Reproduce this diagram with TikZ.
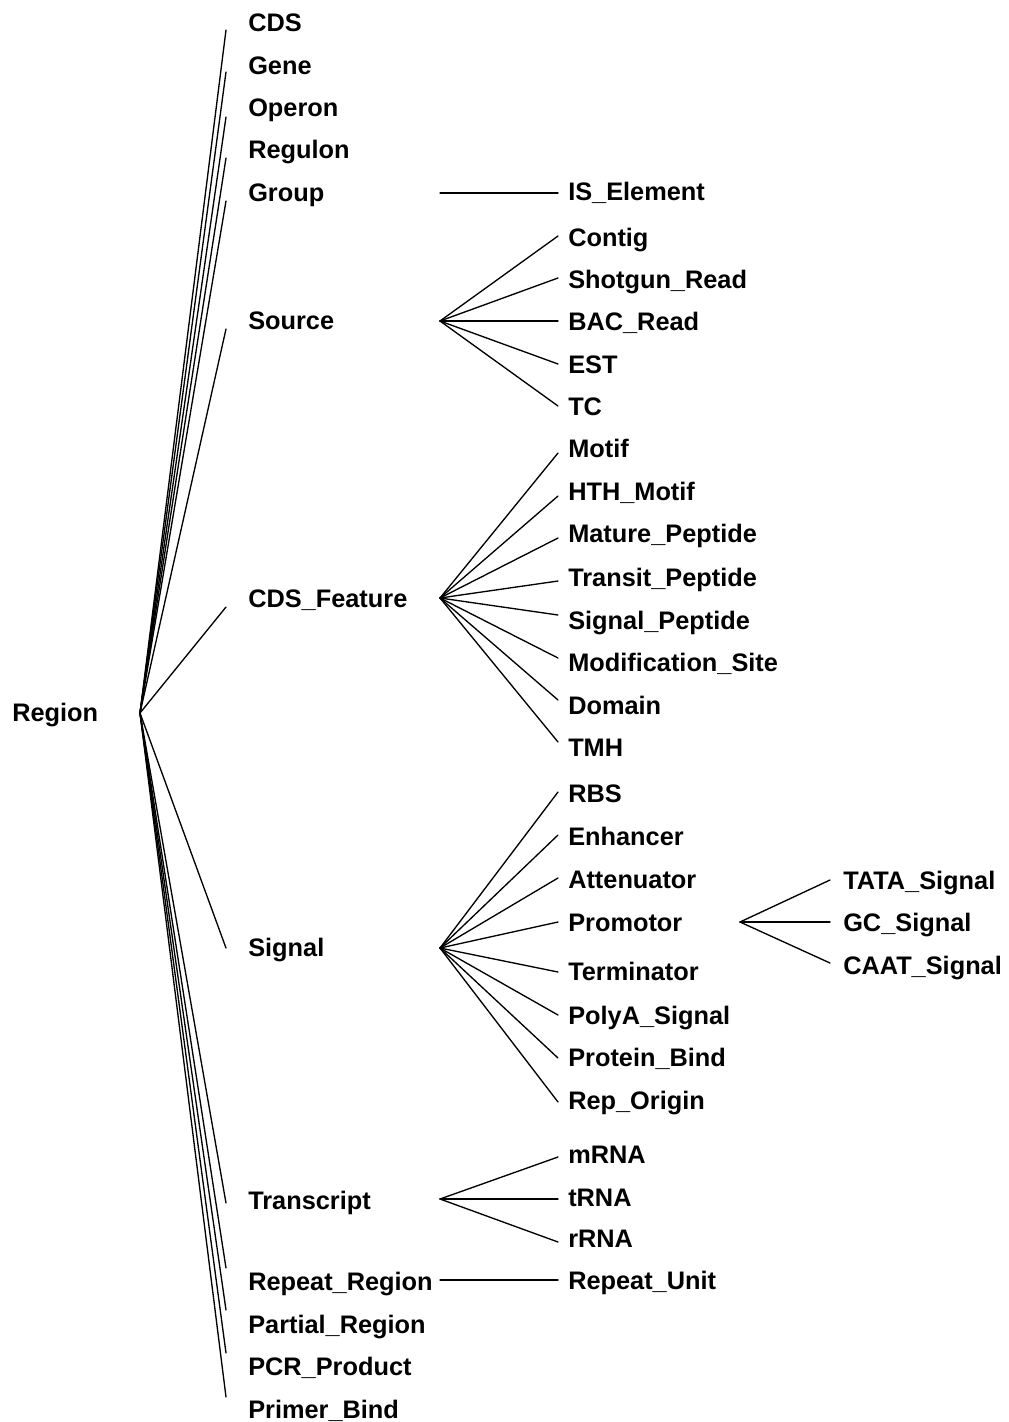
\documentclass[tikz,border=0pt]{standalone}
\usepackage{fontspec}
\setmainfont{Liberation Sans}
\begin{document}
\begin{tikzpicture}[x=0.75pt,y=-0.75pt,
  lbl/.style={anchor=west,inner sep=0pt,text height=13.6pt,text depth=0pt,
              font=\fontsize{19pt}{23pt}\selectfont\bfseries},
  edge/.style={line width=1pt,line cap=round}]
\useasboundingbox[fill=white] (0,0) rectangle (1009,1422);

% root
\node[lbl] (region) at (12,712) {Region};
\coordinate (regionfan) at (140,713);

% first level: name / text / y / end offset
\foreach \n/\t/\y/\d in {
  cds/CDS/22/8, gene/Gene/65/7, operon/Operon/107/10, regulon/Regulon/149/9,
  group/Group/192/9, source/Source/320/9, cdsf/CDS\_Feature/598/9,
  signal/Signal/947/1, transcript/Transcript/1200/3,
  repreg/Repeat\_Region/1281/-13, partial/Partial\_Region/1324/-14,
  pcr/PCR\_Product/1366/-13, primer/Primer\_Bind/1409/-12}
{
  \node[lbl] (\n) at (248,\y) {\t};
  \draw[edge] (regionfan) -- ([shift={(-22,\d)}]\n.west);
}

% fan points of the second level
\coordinate (groupfan) at (440,193);
\coordinate (sourcefan) at (440,321);
\coordinate (cdsffan) at (440,598);
\coordinate (signalfan) at (440,948);
\coordinate (transcriptfan) at (440,1199);
\coordinate (repregfan) at (440,1280);

% Group
\node[lbl] (isel) at (568,191) {IS\_Element};
\draw[edge] (groupfan) -- ([shift={(-10,2)}]isel.west);

% Source
\foreach \n/\t/\y/\d in {
  contig/Contig/237/-1, shotgun/Shotgun\_Read/279/-1, bac/BAC\_Read/321/0,
  est/EST/364/0, tc/TC/406/0}
{
  \node[lbl] (\n) at (568,\y) {\t};
  \draw[edge] (sourcefan) -- ([shift={(-10,\d)}]\n.west);
}

% CDS_Feature
\foreach \n/\t/\y/\d in {
  motif/Motif/448/5, hth/HTH\_Motif/491/5, mature/Mature\_Peptide/533/5,
  transit/Transit\_Peptide/577/4, sigpep/Signal\_Peptide/620/-5,
  modif/Modification\_Site/662/-4, domain/Domain/705/-5, tmh/TMH/747/-5}
{
  \node[lbl] (\n) at (568,\y) {\t};
  \draw[edge] (cdsffan) -- ([shift={(-10,\d)}]\n.west);
}

% Signal
\foreach \n/\t/\y/\d in {
  rbs/RBS/793/-1, enhancer/Enhancer/836/-1, attenuator/Attenuator/879/-1,
  promotor/Promotor/922/0, terminator/Terminator/971/1,
  polya/PolyA\_Signal/1015/0, protbind/Protein\_Bind/1057/1,
  reporigin/Rep\_Origin/1100/2}
{
  \node[lbl] (\n) at (568,\y) {\t};
  \draw[edge] (signalfan) -- ([shift={(-10,\d)}]\n.west);
}

% Promotor
\coordinate (promotorfan) at (740,922);
\foreach \n/\t/\y/\d in {
  tata/TATA\_Signal/880/0, gc/GC\_Signal/922/0, caat/CAAT\_Signal/965/-2}
{
  \node[lbl] (\n) at (843,\y) {\t};
  \draw[edge] (promotorfan) -- ([shift={(-13,\d)}]\n.west);
}

% Transcript
\foreach \n/\t/\y/\d in {
  mrna/mRNA/1154/3, trna/tRNA/1197/2, rrna/rRNA/1238/4}
{
  \node[lbl] (\n) at (568,\y) {\t};
  \draw[edge] (transcriptfan) -- ([shift={(-10,\d)}]\n.west);
}

% Repeat_Region
\node[lbl] (repunit) at (568,1280) {Repeat\_Unit};
\draw[edge] (repregfan) -- ([shift={(-10,0)}]repunit.west);

\end{tikzpicture}
\end{document}
